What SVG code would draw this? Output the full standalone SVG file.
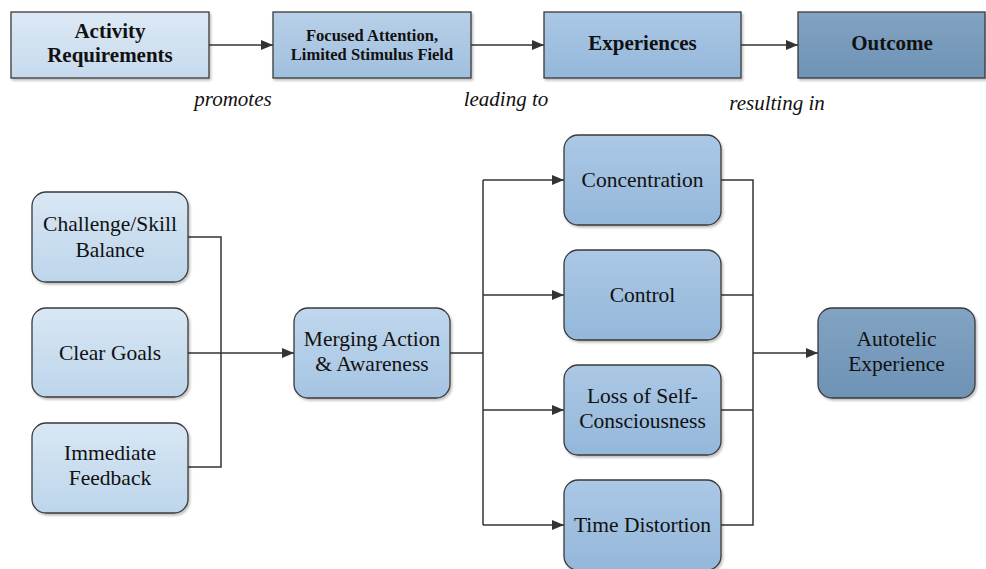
<svg xmlns="http://www.w3.org/2000/svg" width="986" height="569" viewBox="0 0 986 569">
<defs>
<linearGradient id="gA" x1="0" y1="0" x2="0" y2="1"><stop offset="0" stop-color="#dde9f5"/><stop offset="1" stop-color="#c6daed"/></linearGradient>
<linearGradient id="gB" x1="0" y1="0" x2="0" y2="1"><stop offset="0" stop-color="#b8d0e8"/><stop offset="1" stop-color="#a0bfde"/></linearGradient>
<linearGradient id="gC" x1="0" y1="0" x2="0" y2="1"><stop offset="0" stop-color="#abc8e5"/><stop offset="1" stop-color="#94b7da"/></linearGradient>
<linearGradient id="gD" x1="0" y1="0" x2="0" y2="1"><stop offset="0" stop-color="#82a3c3"/><stop offset="1" stop-color="#6e93b6"/></linearGradient>
<linearGradient id="gL" x1="0" y1="0" x2="0" y2="1"><stop offset="0" stop-color="#d8e7f4"/><stop offset="1" stop-color="#bdd5eb"/></linearGradient>
<linearGradient id="gM" x1="0" y1="0" x2="0" y2="1"><stop offset="0" stop-color="#c0d7ed"/><stop offset="1" stop-color="#a5c4e2"/></linearGradient>
<filter id="sh" x="-10%" y="-10%" width="130%" height="130%"><feDropShadow dx="1.5" dy="2" stdDeviation="1.2" flood-color="#000" flood-opacity="0.25"/></filter>
<marker id="ar" viewBox="0 0 12 10" refX="12" refY="5" markerWidth="12" markerHeight="10" markerUnits="userSpaceOnUse" orient="auto"><path d="M0,0 L12,5 L0,10 z" fill="#333"/></marker>
</defs>
<style>
.box{stroke:#3a3a3a;stroke-width:1.3;filter:url(#sh)}
.t{font-family:"Liberation Serif","Times New Roman",serif;font-size:21.5px;fill:#111;text-anchor:middle}
.tb{font-family:"Liberation Serif","Times New Roman",serif;font-weight:bold;font-size:21px;fill:#111;text-anchor:middle}
.ts{font-family:"Liberation Serif","Times New Roman",serif;font-weight:bold;font-size:16.5px;fill:#111;text-anchor:middle}
.ti{font-family:"Liberation Serif","Times New Roman",serif;font-style:italic;font-size:21px;fill:#111;text-anchor:middle}
.c{fill:none;stroke:#333;stroke-width:1.5}
</style>
<g id="connectors">
<line class="c" x1="209" y1="45" x2="273" y2="45" marker-end="url(#ar)"/>
<line class="c" x1="471" y1="45" x2="544" y2="45" marker-end="url(#ar)"/>
<line class="c" x1="741" y1="45" x2="798" y2="45" marker-end="url(#ar)"/>
<polyline class="c" points="188,237 221,237 221,467 188,467"/>
<line class="c" x1="188" y1="353" x2="294" y2="353" marker-end="url(#ar)"/>
<line class="c" x1="450" y1="353" x2="483" y2="353"/>
<line class="c" x1="483" y1="180" x2="483" y2="525"/>
<line class="c" x1="483" y1="180" x2="564" y2="180" marker-end="url(#ar)"/>
<line class="c" x1="483" y1="295" x2="564" y2="295" marker-end="url(#ar)"/>
<line class="c" x1="483" y1="410" x2="564" y2="410" marker-end="url(#ar)"/>
<line class="c" x1="483" y1="525" x2="564" y2="525" marker-end="url(#ar)"/>
<polyline class="c" points="721,180 753,180 753,525 721,525"/>
<line class="c" x1="721" y1="295" x2="753" y2="295"/>
<line class="c" x1="721" y1="410" x2="753" y2="410"/>
<line class="c" x1="753" y1="353" x2="818" y2="353" marker-end="url(#ar)"/>
</g>
<g id="activity"><rect class="box" x="11" y="12" width="198" height="66" fill="url(#gA)"/><text class="tb" x="110" y="38">Activity</text><text class="tb" x="110" y="62">Requirements</text></g>
<g id="focused"><rect class="box" x="273" y="12" width="198" height="66" fill="url(#gB)"/><text class="ts" x="372" y="41">Focused Attention,</text><text class="ts" x="372" y="60">Limited Stimulus Field</text></g>
<g id="experiences"><rect class="box" x="544" y="12" width="197" height="66" fill="url(#gC)"/><text class="tb" x="642.5" y="50">Experiences</text></g>
<g id="outcome"><rect class="box" x="798" y="12" width="187" height="66" fill="url(#gD)"/><text class="tb" x="892" y="50">Outcome</text></g>
<g id="labels"><text class="ti" x="233" y="106">promotes</text><text class="ti" x="506" y="106">leading to</text><text class="ti" x="777" y="110">resulting in</text></g>
<g id="challenge"><rect class="box" x="32" y="192" width="156" height="90" rx="14" fill="url(#gL)"/><text class="t" x="110" y="231">Challenge/Skill</text><text class="t" x="110" y="257">Balance</text></g>
<g id="goals"><rect class="box" x="32" y="308" width="156" height="89" rx="14" fill="url(#gL)"/><text class="t" x="110" y="360">Clear Goals</text></g>
<g id="feedback"><rect class="box" x="32" y="423" width="156" height="90" rx="14" fill="url(#gL)"/><text class="t" x="110" y="460">Immediate</text><text class="t" x="110" y="485">Feedback</text></g>
<g id="merging"><rect class="box" x="294" y="308" width="156" height="90" rx="14" fill="url(#gM)"/><text class="t" x="372" y="346">Merging Action</text><text class="t" x="372" y="371">&amp; Awareness</text></g>
<g id="concentration"><rect class="box" x="564" y="135" width="157" height="90" rx="14" fill="url(#gC)"/><text class="t" x="642.5" y="187">Concentration</text></g>
<g id="control"><rect class="box" x="564" y="250" width="157" height="90" rx="14" fill="url(#gC)"/><text class="t" x="642.5" y="302">Control</text></g>
<g id="loss"><rect class="box" x="564" y="365" width="157" height="90" rx="14" fill="url(#gC)"/><text class="t" x="642.5" y="403">Loss of Self-</text><text class="t" x="642.5" y="428">Consciousness</text></g>
<g id="time"><rect class="box" x="564" y="480" width="157" height="90" rx="14" fill="url(#gC)"/><text class="t" x="642.5" y="532">Time Distortion</text></g>
<g id="autotelic"><rect class="box" x="818" y="308" width="157" height="90" rx="14" fill="url(#gD)"/><text class="t" x="896.5" y="346">Autotelic</text><text class="t" x="896.5" y="371">Experience</text></g>
</svg>
